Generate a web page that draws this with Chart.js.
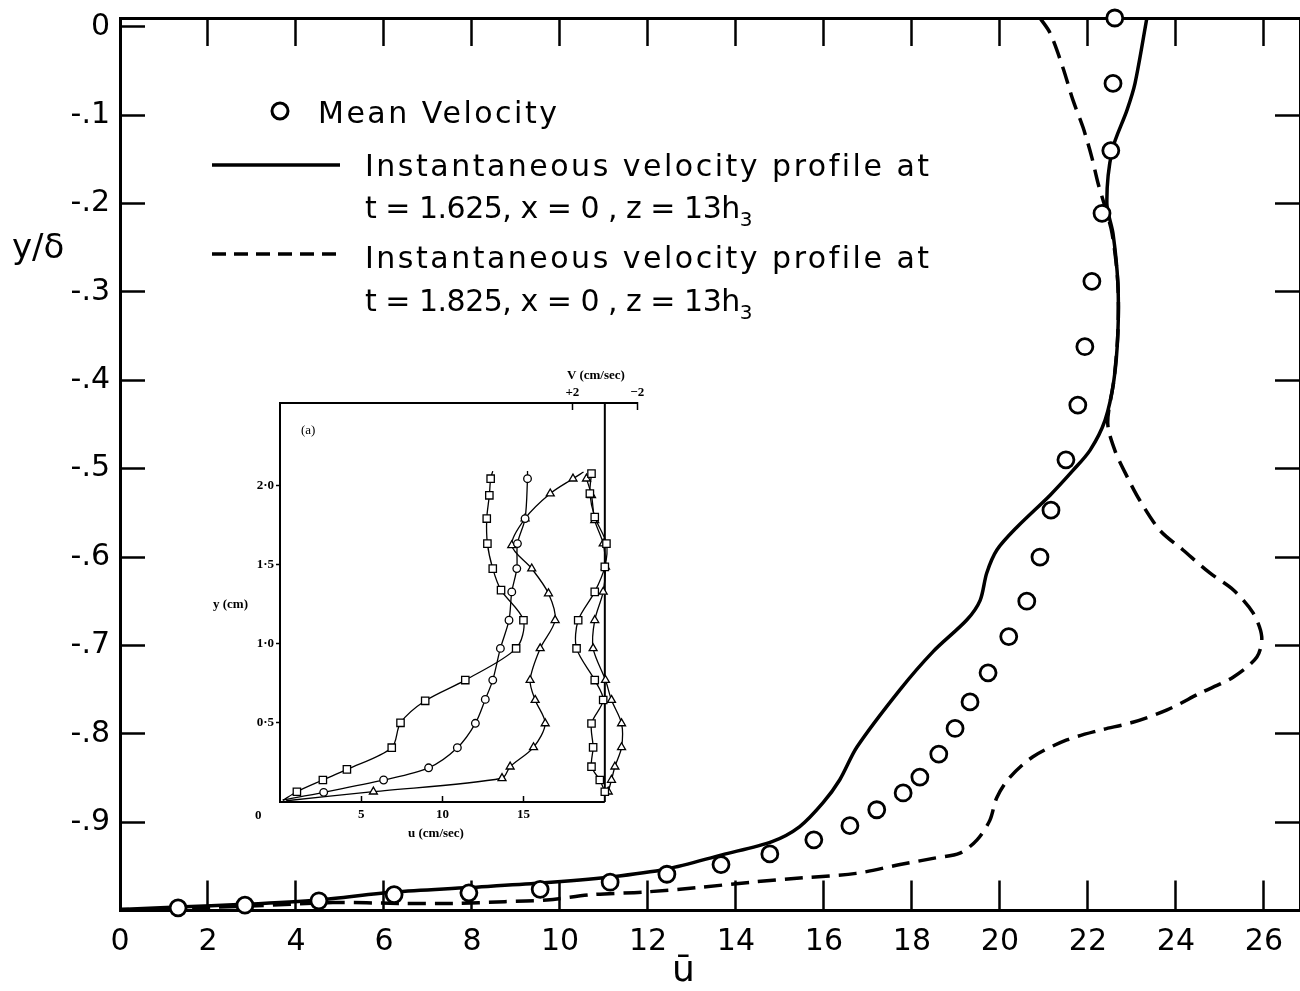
<!DOCTYPE html>
<html lang="en">
<head>
<meta charset="UTF-8">
<title>Velocity profiles</title>
<script src="https://cdn.jsdelivr.net/npm/chart.js"></script>
<style>
  body { margin: 0; background: #fff; }
  #wrap { position: relative; width: 1300px; height: 991px; overflow: hidden; font-family: 'DejaVu Sans', sans-serif; color: #000; }
  #mainChart { position: absolute; left: 0; top: 0; }
  #insetChart { position: absolute; left: 200px; top: 360px; }
  .lbl { position: absolute; white-space: nowrap; line-height: 36px; }
  .leg { font-size: 30px; letter-spacing: 2.5px; }
  .leg2 { font-size: 30px; letter-spacing: -0.5px; }
  .ins { font-family: 'Liberation Serif', serif; font-weight: bold; font-size: 13px; line-height: 16px; }
  svg { position: absolute; left: 0; top: 0; }
</style>
</head>
<body>
<div id="wrap">
  <canvas id="mainChart" width="1300" height="991"></canvas>
  <canvas id="insetChart" width="470" height="500"></canvas>

  <svg width="1300" height="991">
    <circle cx="280" cy="111" r="8" fill="#fff" stroke="#000" stroke-width="3"/>
    <line x1="212" y1="165" x2="340" y2="165" stroke="#000" stroke-width="3.5"/>
    <line x1="212" y1="254" x2="340" y2="254" stroke="#000" stroke-width="3.5" stroke-dasharray="14 8"/>
  </svg>

  <div class="lbl leg" style="left:318px; top:95px;">Mean Velocity</div>
  <div class="lbl leg" style="left:365px; top:148px;">Instantaneous velocity profile at</div>
  <div class="lbl leg2" style="left:365px; top:190px;">t = 1.625, x = 0 , z = 13h<span style="font-size:20px; position:relative; top:8px;">3</span></div>
  <div class="lbl leg" style="left:365px; top:240px;">Instantaneous velocity profile at</div>
  <div class="lbl leg2" style="left:365px; top:283px;">t = 1.825, x = 0 , z = 13h<span style="font-size:20px; position:relative; top:8px;">3</span></div>

  <div class="lbl" style="left:12px; top:226px; font-size:34px; line-height:40px;">y/δ</div>
  <div class="lbl" style="left:672px; top:948px; font-size:36px; line-height:42px;">ū</div>

  <div class="lbl ins" style="left:301px; top:422px; font-weight:normal;">(a)</div>
  <div class="lbl ins" style="left:213px; top:596px;">y (cm)</div>
  <div class="lbl ins" style="left:408px; top:825px;">u (cm/sec)</div>
  <div class="lbl ins" style="left:567px; top:367px;">V (cm/sec)</div>
  <div class="lbl ins" style="left:255px; top:807px;">0</div>
</div>

<script>
// ---- main chart data (u-bar vs y/delta) ----
const meanU = [22.61, 22.57, 22.52, 22.32, 22.09, 21.93, 21.77, 21.50, 21.16, 20.91, 20.61, 20.20, 19.73, 19.32, 18.98, 18.61, 18.18, 17.80, 17.20, 16.59, 15.77, 14.77, 13.66, 12.43, 11.14, 9.55, 7.93, 6.23, 4.52, 2.84, 1.32];
const meanY = [0.01, -0.064, -0.140, -0.211, -0.288, -0.362, -0.428, -0.490, -0.547, -0.600, -0.650, -0.690, -0.731, -0.764, -0.794, -0.823, -0.849, -0.867, -0.886, -0.904, -0.920, -0.936, -0.948, -0.959, -0.968, -0.976, -0.980, -0.982, -0.989, -0.994, -0.997];

// t = 1.625
const solidU = [0, 1.32, 2.82, 4.5, 6.23, 7.93, 9.55, 11.14, 12.43, 13.68, 14.82, 15.45, 15.98, 16.36, 16.75, 17.73, 18.48, 19.25, 19.55, 19.70, 19.93, 20.39, 21.14, 21.66, 22.05, 22.39, 22.59, 22.68, 22.68, 22.57, 22.43, 22.55, 22.89, 23.07, 23.34];
const solidY = [-0.999, -0.996, -0.993, -0.988, -0.979, -0.974, -0.969, -0.962, -0.953, -0.937, -0.922, -0.905, -0.878, -0.852, -0.815, -0.750, -0.707, -0.671, -0.649, -0.618, -0.592, -0.566, -0.530, -0.502, -0.479, -0.445, -0.400, -0.347, -0.290, -0.234, -0.200, -0.140, -0.094, -0.064, 0.01];

// t = 1.825
const dashU = [20.91, 21.14, 21.43, 21.66, 21.89, 22.09, 22.23, 22.39, 22.55, 22.68, 22.68, 22.59, 22.45, 22.61, 22.89, 23.18, 23.64, 24.16, 24.77, 25.30, 25.75, 25.95, 25.84, 25.30, 24.55, 23.80, 23.02, 22.27, 21.52, 20.75, 20.23, 19.93, 19.77, 19.48, 19.09, 18.48, 17.73, 16.73, 15.52, 14.34, 13.14, 11.95, 10.75, 9.70, 8.75, 7.57, 6.36, 4.84, 2.95, 0];
const dashY = [0.01, -0.007, -0.046, -0.083, -0.114, -0.148, -0.177, -0.204, -0.234, -0.290, -0.347, -0.400, -0.448, -0.479, -0.509, -0.536, -0.570, -0.592, -0.618, -0.637, -0.663, -0.690, -0.713, -0.736, -0.754, -0.773, -0.787, -0.796, -0.807, -0.826, -0.849, -0.872, -0.898, -0.920, -0.935, -0.941, -0.948, -0.958, -0.963, -0.968, -0.974, -0.979, -0.982, -0.988, -0.990, -0.992, -0.992, -0.991, -0.995, -0.999];

const xTicks = [0, 2, 4, 6, 8, 10, 12, 14, 16, 18, 20, 22, 24, 26];
const yTicks = [0, -0.1, -0.2, -0.3, -0.4, -0.5, -0.6, -0.7, -0.8, -0.9];
const yTickLabels = ['0', '-.1', '-.2', '-.3', '-.4', '-.5', '-.6', '-.7', '-.8', '-.9'];

// ---- inset data: u (cm/sec) and V (cm/sec) vs y (cm) ----
const sqU = [0.17, 1.04, 2.64, 4.12, 6.88, 7.42, 8.94, 11.41, 14.54, 14.99, 13.61, 13.10, 12.77, 12.73, 12.89, 12.97, 13.10];
const sqY = [0.01, 0.065, 0.139, 0.206, 0.343, 0.500, 0.639, 0.770, 0.970, 1.148, 1.338, 1.474, 1.632, 1.790, 1.937, 2.042, 2.09];
const ciU = [0.17, 2.69, 6.38, 9.15, 10.92, 12.03, 12.64, 13.10, 13.57, 14.10, 14.27, 14.58, 14.62, 15.09, 15.24, 15.24];
const ciY = [0.013, 0.061, 0.139, 0.216, 0.343, 0.497, 0.648, 0.770, 0.970, 1.148, 1.327, 1.474, 1.632, 1.790, 2.042, 2.09];
const trU = [0.38, 5.75, 13.67, 14.17, 15.61, 16.33, 15.71, 15.40, 16.02, 16.94, 16.53, 15.50, 14.27, 15.09, 16.64, 18.04, 18.69];
const trY = [0.008, 0.065, 0.150, 0.223, 0.345, 0.496, 0.644, 0.770, 0.970, 1.148, 1.317, 1.474, 1.621, 1.790, 1.948, 2.042, 2.084];
const sqV = [0.0, 0.31, 0.82, 0.72, 0.82, 0.10, 0.62, 1.74, 1.64, 0.62, 0.0, -0.10, 0.62, 0.92, 0.82];
const sqVY = [0.065, 0.139, 0.223, 0.345, 0.496, 0.644, 0.770, 0.970, 1.148, 1.327, 1.485, 1.632, 1.800, 1.948, 2.074];
const trV = [-0.21, -0.41, -0.62, -1.03, -1.03, -0.41, -0.04, 0.72, 0.62, 0.10, -0.04, 0.10, 0.62, 0.82, 1.13];
const trVY = [0.065, 0.139, 0.223, 0.345, 0.496, 0.644, 0.770, 0.970, 1.148, 1.327, 1.485, 1.632, 1.779, 1.937, 2.042];

const insUTicks = [5, 10, 15];
const insYTicks = [0.5, 1, 1.5, 2];
const insYTickLabels = ['0·5', '1·0', '1·5', '2·0'];
const insVTicks = [2, -2];
const insVTickLabels = ['+2', '−2'];

Chart.defaults.font.family = "'DejaVu Sans', sans-serif";
Chart.defaults.color = '#000';

function pts(xs, ys) {
    return xs.map((x, i) => ({ x: x, y: ys[i] }));
}

// fix the size of an axis box so the plot area lands where it should
function fixBox(size, dim) {
    return scale => {
        scale[dim] = size;
        scale.paddingTop = 0; scale.paddingBottom = 0;
        scale.paddingLeft = 0; scale.paddingRight = 0;
    };
}

function setTicks(vals) {
    return scale => { scale.ticks = vals.map(v => ({ value: v })); };
}

const tickFont = { size: 30, family: "'DejaVu Sans', sans-serif" };

new Chart(document.getElementById('mainChart').getContext('2d'), {
    type: 'scatter',
    data: {
        datasets: [
            {
                label: 'Mean Velocity',
                data: pts(meanU, meanY),
                pointRadius: 8,
                pointBorderWidth: 2.8,
                pointBackgroundColor: '#fff',
                pointBorderColor: '#000',
                showLine: false,
                clip: false
            },
            {
                label: 't=1.625',
                data: pts(solidU, solidY),
                showLine: true,
                borderColor: '#000',
                borderWidth: 3.5,
                pointRadius: 0,
                tension: 0.3
            },
            {
                label: 't=1.825',
                data: pts(dashU, dashY),
                showLine: true,
                borderColor: '#000',
                borderWidth: 3.5,
                borderDash: [18, 9],
                pointRadius: 0,
                tension: 0.3
            }
        ]
    },
    options: {
        responsive: false,
        animation: false,
        layout: { padding: 0, autoPadding: false },
        plugins: { legend: { display: false }, tooltip: { enabled: false } },
        scales: {
            x: {
                type: 'linear', position: 'bottom', min: 0, max: 26.82,
                afterBuildTicks: setTicks(xTicks),
                afterFit: fixBox(80.5, 'height'),
                grid: { drawOnChartArea: false, tickLength: -30, tickWidth: 2.5, tickColor: '#000' },
                border: { color: '#000', width: 3 },
                ticks: { font: tickFont, padding: 43.5, maxRotation: 0, autoSkip: false }
            },
            x2: {
                type: 'linear', position: 'top', min: 0, max: 26.82,
                afterBuildTicks: setTicks(xTicks.slice(1)),
                afterFit: fixBox(18, 'height'),
                grid: { drawOnChartArea: false, tickLength: -28, tickWidth: 2.5, tickColor: '#000' },
                border: { color: '#000', width: 3 },
                ticks: { display: false }
            },
            y: {
                type: 'linear', position: 'left', min: -1, max: 0.01,
                afterBuildTicks: setTicks(yTicks),
                afterFit: fixBox(120, 'width'),
                grid: { drawOnChartArea: false, tickLength: -25, tickWidth: 2.5, tickColor: '#000' },
                border: { color: '#000', width: 3 },
                ticks: { font: tickFont, padding: 35, callback: (v, i) => yTickLabels[i] }
            },
            y2: {
                type: 'linear', position: 'right', min: -1, max: 0.01,
                afterBuildTicks: setTicks(yTicks.slice(1)),
                afterFit: fixBox(0, 'width'),
                grid: { drawOnChartArea: false, tickLength: -25, tickWidth: 2.5, tickColor: '#000' },
                border: { color: '#000', width: 3 },
                ticks: { display: false }
            }
        }
    }
});

// inset: bottom line up to u = 20 and the V = 0 line
const insetFrame = {
    id: 'insetFrame',
    beforeDatasetsDraw(chart) {
        const { ctx, scales: { x, x2, y } } = chart;
        const y0 = y.getPixelForValue(0);
        const yTop = y.getPixelForValue(y.max);
        const v0 = x2.getPixelForValue(0);
        ctx.save();
        ctx.strokeStyle = '#000';
        ctx.lineWidth = 2;
        ctx.beginPath();
        ctx.moveTo(x.getPixelForValue(0), y0);
        ctx.lineTo(v0, y0);
        ctx.moveTo(v0, y0);
        ctx.lineTo(v0, yTop);
        ctx.stroke();
        ctx.restore();
    }
};

function noEnds(r) {
    return ctx => {
        const n = ctx.dataset.data.length;
        return (ctx.dataIndex === 0 || ctx.dataIndex === n - 1) ? 0 : r;
    };
}

function insetSet(data, style, radius, axis, ends) {
    return {
        data: data,
        xAxisID: axis,
        showLine: true,
        borderColor: '#000',
        borderWidth: 1.3,
        tension: 0.3,
        pointStyle: style,
        pointRadius: ends ? noEnds(radius) : radius,
        pointBorderWidth: 1.3,
        pointBackgroundColor: '#fff',
        pointBorderColor: '#000',
        clip: false
    };
}

const insFont = { size: 13, weight: 'bold', family: "'Liberation Serif', serif" };

new Chart(document.getElementById('insetChart').getContext('2d'), {
    type: 'scatter',
    data: {
        datasets: [
            insetSet(pts(sqU, sqY), 'rect', 5.2, 'x', true),
            insetSet(pts(ciU, ciY), 'circle', 3.8, 'x', true),
            insetSet(pts(trU, trY), 'triangle', 4.6, 'x', true),
            insetSet(pts(sqV, sqVY), 'rect', 5.2, 'x2', false),
            insetSet(pts(trV, trVY), 'triangle', 4.6, 'x2', false)
        ]
    },
    options: {
        responsive: false,
        animation: false,
        layout: { padding: { right: 32.7 }, autoPadding: false },
        plugins: { legend: { display: false }, tooltip: { enabled: false } },
        scales: {
            x: {
                type: 'linear', position: 'bottom', min: 0, max: 22,
                afterBuildTicks: setTicks(insUTicks),
                afterFit: fixBox(58, 'height'),
                grid: { drawOnChartArea: false, tickLength: -6, tickWidth: 1.5, tickColor: '#000' },
                border: { display: false },
                ticks: { font: insFont, padding: 11, maxRotation: 0, autoSkip: false }
            },
            x2: {
                type: 'linear', position: 'top', min: -2, max: 20, reverse: true,
                afterBuildTicks: setTicks(insVTicks),
                afterFit: fixBox(43, 'height'),
                grid: { drawOnChartArea: false, tickLength: -7, tickWidth: 1.5, tickColor: '#000' },
                border: { color: '#000', width: 2 },
                ticks: { font: insFont, padding: 10, callback: (v, i) => insVTickLabels[i] }
            },
            y: {
                type: 'linear', position: 'left', min: 0, max: 2.52,
                afterBuildTicks: setTicks(insYTicks),
                afterFit: fixBox(80, 'width'),
                grid: { drawOnChartArea: false, tickLength: 4, tickWidth: 1.5, tickColor: '#000' },
                border: { color: '#000', width: 2 },
                ticks: { font: insFont, padding: 2, callback: (v, i) => insYTickLabels[i] }
            }
        }
    },
    plugins: [insetFrame]
});
</script>
</body>
</html>
